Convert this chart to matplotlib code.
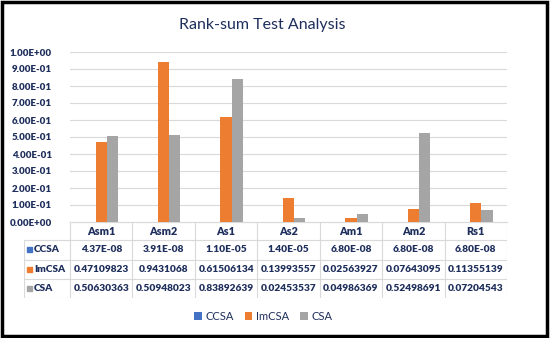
import matplotlib.pyplot as plt
from matplotlib.patches import Rectangle
import numpy as np

plt.rcParams['font.family'] = ['Lato', 'DejaVu Sans']

categories = ['Asm1', 'Asm2', 'As1', 'As2', 'Am1', 'Am2', 'Rs1']
series = ['CCSA', 'ImCSA', 'CSA']
ccsa = [4.37e-08, 3.91e-08, 1.10e-05, 1.40e-05, 6.80e-08, 6.80e-08, 6.80e-08]
imcsa = [0.47109823, 0.9431068, 0.61506134, 0.13993557, 0.02563927, 0.07643095, 0.11355139]
csa = [0.50630363, 0.50948023, 0.83892639, 0.02453537, 0.04986369, 0.52498691, 0.07204543]
yticks = np.arange(0, 1.01, 0.1)

colors = ['#4472C4', '#ED7D31', '#A5A5A5']
navy = '#1F2F5C'
grid = '#D9D9D9'
wt = 'heavy'

W, H = 550, 338
fig = plt.figure(figsize=(5.5, 3.38), dpi=100)

def fx(px):
    return px / W

def fy(py):
    return 1 - py / H

# plot area in pixels
L, R, T, B = 70, 507, 52, 222
ax = fig.add_axes([fx(L), fy(B), fx(R - L), fy(T) - fy(B)])

x = np.arange(len(categories))
bw = 0.18
for i, (name, vals) in enumerate(zip(series, [ccsa, imcsa, csa])):
    ax.bar(x + (i - 1) * bw, vals, bw, color=colors[i], label=name, zorder=3)

ax.set_xlim(-0.5, len(categories) - 0.5)
ax.set_ylim(0, 1.0)
ax.set_yticks(yticks)
ax.set_yticklabels([f'{v:.2E}' for v in yticks], fontsize=7, fontweight=wt, color=navy)
ax.set_xticks([])
ax.tick_params(axis='y', length=0, pad=13)
ax.grid(axis='y', color=grid, linewidth=0.8, zorder=0)
for s in ['top', 'right', 'left']:
    ax.spines[s].set_visible(False)
ax.spines['bottom'].set_color(grid)
ax.set_facecolor('none')

fig.text(fx(262), fy(25), 'Rank-sum Test Analysis', ha='center', va='center',
         fontsize=11.5, color=navy)

# data table drawn in pixel space
TL, TT, TB = 24, 222, 298
tax = fig.add_axes([fx(TL), fy(TB), fx(R - TL), fy(TT) - fy(TB)])
tax.set_xlim(TL, R)
tax.set_ylim(TB, TT)
tax.axis('off')

cw = (R - L) / len(categories)
rows = [TT, 240, 259.5, 279, TB]
lw = 0.8
tax.plot([L, R], [rows[0], rows[0]], color=grid, lw=lw)
for yy in rows[1:]:
    tax.plot([TL, R], [yy, yy], color=grid, lw=lw)
tax.plot([TL, TL], [rows[1], TB], color=grid, lw=lw)
for j in range(len(categories) + 1):
    xx = L + j * cw
    tax.plot([xx, xx], [TT, TB], color=grid, lw=lw)

for j, c in enumerate(categories):
    tax.text(L + (j + 0.5) * cw, (rows[0] + rows[1]) / 2 + 0.5, c, ha='center', va='center',
             fontsize=7.8, fontweight=wt, color=navy)

def fmt(v):
    return f'{v:.2E}' if v < 1e-3 else str(v)

for i, (name, vals) in enumerate(zip(series, [ccsa, imcsa, csa])):
    yc = (rows[i + 1] + rows[i + 2]) / 2
    tax.add_patch(Rectangle((TL + 3, yc - 2.5), 5, 5, color=colors[i]))
    tax.text(TL + 10, yc, name, ha='left', va='center', fontsize=7.3,
             fontweight=wt, color=navy)
    for j, v in enumerate(vals):
        tax.text(L + (j + 0.5) * cw, yc, fmt(v), ha='center', va='center',
                 fontsize=7.3, fontweight=wt, color=navy)

fig.legend(loc='center', bbox_to_anchor=(fx(263), fy(316)), ncol=3, frameon=False,
           fontsize=8, labelcolor=navy, handlelength=0.7, handleheight=0.7,
           handletextpad=0.3, columnspacing=1.0)

fig.patches.append(Rectangle((fx(2), fy(336)), fx(545), fy(2) - fy(336),
                             transform=fig.transFigure, fill=False, edgecolor='black',
                             linewidth=2.5))

fig.savefig('out.png', dpi=100)
